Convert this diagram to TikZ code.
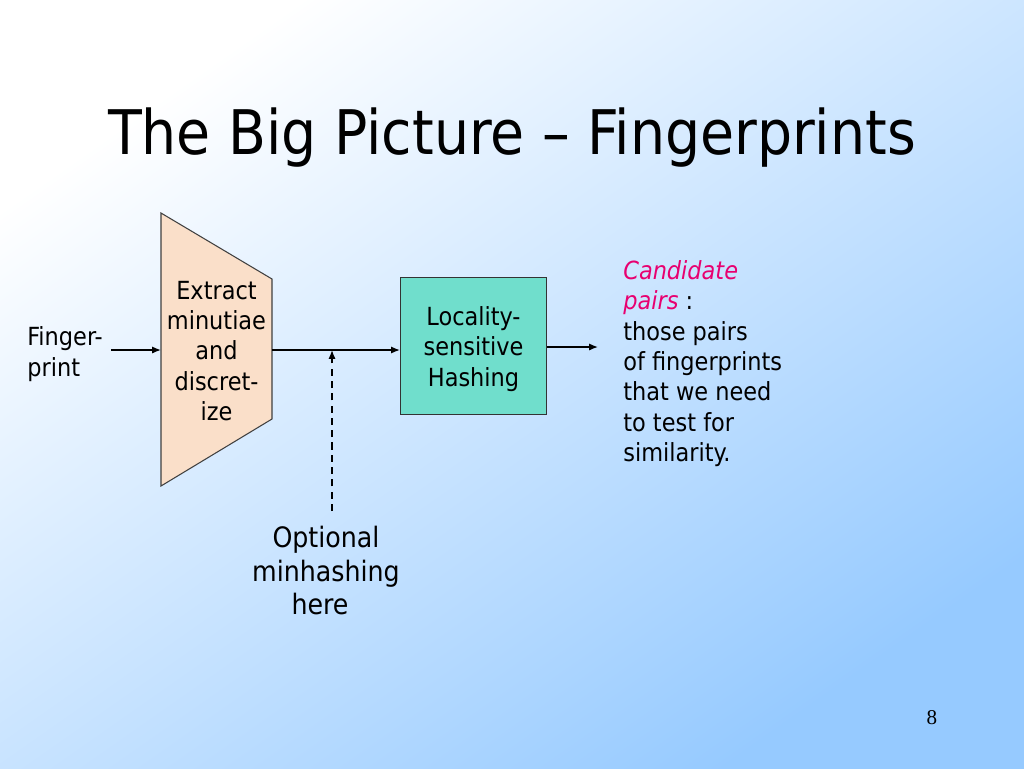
\documentclass[tikz,border=0pt]{standalone}
\usepackage{fontspec}
\setmainfont{DejaVu Sans Condensed}
\newfontfamily\pagefont{Liberation Serif}
\usepackage{tikz}
\usetikzlibrary{arrows.meta,calc}

\definecolor{bgtop}{RGB}{255,255,255}
\definecolor{bgbottom}{RGB}{150,202,255}
\definecolor{trapfill}{RGB}{250,223,201}
\definecolor{lshfill}{RGB}{112,222,204}
\definecolor{candpink}{RGB}{232,0,112}

\begin{document}
\begin{tikzpicture}[x=0.02cm,y=-0.02cm]
\tikzset{
	trap node/.style = {draw = black!75, line width = 0.6pt, fill = trapfill},
	lsh node/.style = {rectangle, draw = black!80, line width = 0.6pt, fill = lshfill,
		minimum width = 146*0.02cm, minimum height = 137*0.02cm, inner sep = 0},
	body text/.style = {inner sep = 0, font = \fontsize{14.2}{17.3}\selectfont},
	big text/.style = {inner sep = 0, font = \fontsize{16}{19}\selectfont, align = center},
	flow/.style = {line width = 0.8pt, -{Latex[length = 5pt, width = 4pt]}}
}
% background
\useasboundingbox (0,0) rectangle (1024,768);
\shade[shading = axis, top color = bgtop, bottom color = bgbottom, shading angle = 35]
	(0,0) rectangle (1024,768);

% title
\node[inner sep = 0, font = \fontsize{35}{40}\selectfont] (title) at (512,138) {The Big Picture -- Fingerprints};

% extraction stage
\draw[trap node] (161,213) coordinate (ex tl) -- (272,279) coordinate (ex tr)
	-- (272,419) coordinate (ex br) -- (161,486) coordinate (ex bl) -- cycle;
\coordinate (ex in) at (161,350);
\coordinate (ex out) at (272,350);
\node[body text, align = center] (extract) at (216.5,351) {Extract\\minutiae\\and\\discret-\\ize};

\node[body text, align = left, anchor = west] (finger) at (27,354) {Finger-\\print};
\coordinate (fp out) at (111,350);

% hashing stage
\node[lsh node] (lsh) at (473.5,346) {};
\node[body text, align = center] (lsh text) at (473.5,349) {Locality-\\sensitive\\Hashing};

\coordinate (merge) at (332,350);
\coordinate (cand) at (598,347);

\node[big text, anchor = north] (opt) at (326,526) {Optional\\minhashing\\here\kern 6.8pt};

\node[body text, align = left, anchor = north west] (result) at (623,260)
	{\textcolor{candpink}{\itshape Candidate}\\\textcolor{candpink}{\itshape pairs} :\\those pairs\\of fingerprints\\that we need\\to test for\\similarity.};

% connectors
\draw[flow] (fp out) -- (ex in);
\draw[flow] (ex out) -- (ex out -| lsh.west);
\draw[flow, dashed, dash pattern = on 4pt off 3pt] (merge |- 0,511) coordinate (opt top) -- (merge);
\draw[flow] (lsh.east |- cand) -- (cand);

\node[inner sep = 0, font = \pagefont\fontsize{12}{14}\selectfont] (page) at (932,718) {8};
\end{tikzpicture}
\end{document}
